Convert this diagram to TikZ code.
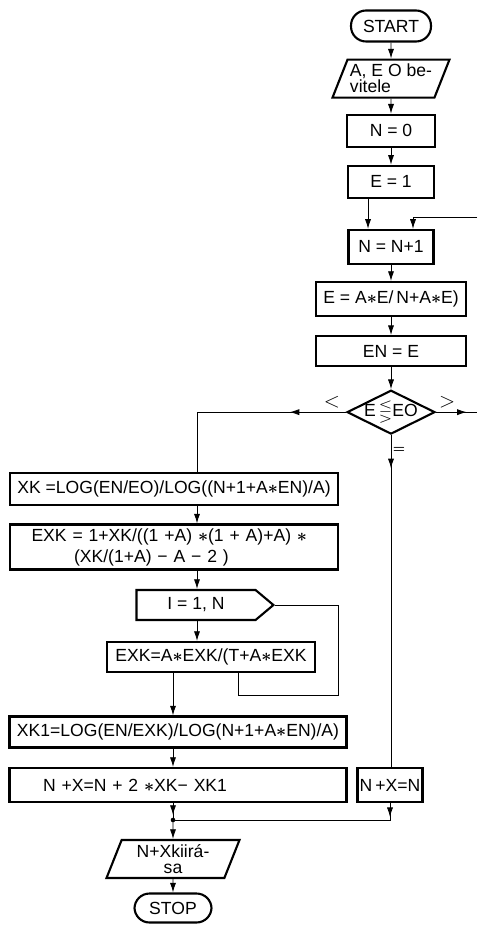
\documentclass[tikz,border=0pt]{standalone}
\usepackage{amsmath,amssymb}
\usepackage{fontspec}
\setmainfont{Liberation Sans}
\usetikzlibrary{
  shapes.geometric,
  shapes.symbols,
  arrows.meta,
  positioning,
  decorations.markings
}
\newcommand{\mul}{$\boldsymbol{\ast}$}

\begin{document}
\begin{tikzpicture}[
    x=0.02cm, y=-0.02cm,
    every node/.style={font=\fontsize{10}{12}\selectfont},
    process/.style={
      rectangle, draw, line width=1.2pt,
      minimum height=0.64cm, inner sep=2pt
    },
    startstop/.style={
      rectangle, draw, rounded corners=0.3cm, line width=1.2pt,
      minimum height=0.62cm, inner sep=2pt
    },
    io/.style={
      trapezium, draw, line width=1.2pt,
      trapezium left angle=65, trapezium right angle=115,
      trapezium stretches body,
      minimum height=0.76cm, inner sep=1pt
    },
    decision/.style={
      diamond, draw, line width=1.2pt, aspect=2,
      minimum width=1.76cm, minimum height=0.86cm, inner sep=-1pt
    },
    loopbox/.style={
      signal, signal to=east, signal pointer angle=80,
      draw, line width=1.2pt, minimum height=0.6cm
    },
    arrow/.style={-{Latex[length=5.5pt,width=3.5pt]}, line width=0.5pt},
    line/.style={line width=0.5pt},
    midarrow/.style={line width=0.5pt,
      decoration={markings,
        mark=at position #1 with {\arrow{Latex[length=5.5pt,width=3.5pt]}}},
      postaction=decorate},
  ]
  \useasboundingbox (0,0) rectangle (477,925);

  % --- Main column (right) ---
  \node[startstop, minimum width=1.6cm] (start) at (391,26) {START};
  \node[io, align=left, minimum width=2.34cm, below=0.32cm of start] (inp)
    {A, E O be-\\[-3pt]vitele};
  \node[process, minimum width=1.76cm, below=0.3cm of inp] (n0) {N = 0};
  \node[process, minimum width=1.72cm, below=0.34cm of n0] (e1) {E = 1};
  \node[process, minimum width=1.7cm, minimum height=0.68cm,
    below=0.6cm of e1] (nn1) {N = N+1};
  \node[process, minimum width=3cm, minimum height=0.68cm,
    below=0.32cm of nn1] (eae) {E = A\mul E/\,N+A\mul E)};
  \node[process, minimum width=3cm, minimum height=0.6cm,
    below=0.36cm of eae] (ene) {EN = E};
  \node[decision, below=0.44cm of ene] (cmp) {E\,$\lesseqgtr$EO};

  % --- Labels of the decision ---
  \node[font=\large] (lt) at ([xshift=-0.28cm, yshift=0.2cm]cmp.west) {$<$};
  \node[font=\large] (gt) at ([xshift=0.22cm, yshift=0.2cm]cmp.east) {$>$};
  \node[font=\scriptsize] (eq) at ([xshift=0.16cm, yshift=-0.3cm]cmp.south) {$\boldsymbol{=}$};

  % --- Left column ---
  \node[process, minimum width=6.56cm] (xk) at (174,489)
    {XK =LOG(EN/EO)/LOG((N+1+A\mul EN)/A)};
  \node[process, minimum width=6.56cm, minimum height=0.9cm,
    text width=6.2cm, align=left] (exk) at (174,547)
    {\hspace*{0.25cm}EXK = 1+XK/((1 +A) \mul(1 + A)+A) \mul\\\hspace*{1.1cm}(XK/(1+A) − A − 2 )};
  \node[loopbox, minimum width=2.74cm] (loop) at (196,605) {I = 1, N};
  \node[process, minimum width=4.16cm, minimum height=0.6cm] (exka) at (211,657)
    {EXK=A\mul EXK/(T+A\mul EXK};
  \node[process, minimum width=6.74cm, minimum height=0.62cm] (xk1) at (178,732)
    {XK1=LOG(EN/EXK)/LOG(N+1+A\mul EN)/A)};
  \node[process, minimum width=6.74cm, minimum height=0.68cm,
    text width=6.4cm, align=left] (nx) at (178,785)
    {\hspace*{0.5cm}N +X=N + 2 \mul XK− XK1};
  \node[process, minimum width=1.3cm, minimum height=0.68cm, inner sep=1pt] (nxn) at (390,785)
    {N\,+X=N};

  \coordinate (jn) at (173,820);
  \node[io, align=center, minimum width=2.66cm] (out) at (173,859)
    {N+Xkiirá-\\[-3pt]sa};
  \node[startstop, minimum width=1.54cm, minimum height=0.58cm] (stop) at (173,908) {STOP};

  % --- Arrows ---
  \draw[arrow] (start) -- (inp);
  \draw[arrow] (inp) -- (n0);
  \draw[arrow] (n0) -- (e1);
  \draw[arrow] ([xshift=-0.46cm]e1.south) -- ([xshift=-0.46cm]nn1.north);
  \coordinate (back) at (477,217);
  \draw[arrow] (back) -| ([xshift=0.44cm]nn1.north);
  \draw[arrow] (nn1) -- (eae);
  \draw[arrow] (eae) -- (ene);
  \draw[arrow] (ene) -- (cmp);

  \coordinate (lft) at ([xshift=0.46cm]xk.north);
  \draw[midarrow=0.27] (cmp.west) -- (cmp.west -| lft) -- (lft);
  \draw[midarrow=0.75] (cmp.east) -- (cmp.east -| back);
  \draw[midarrow=0.1] (cmp.south) -- (cmp.south |- nxn.north);

  \draw[arrow] (xk.south -| lft) -- (exk.north -| lft);
  \draw[arrow] (exk.south -| lft) -- (loop.north -| lft);
  \draw[arrow] (loop.south -| lft) -- (exka.north -| lft);
  \coordinate (lp) at (338,695);
  \draw[line] (loop.east) -| (lp) -| ([xshift=0.54cm]exka.south);

  \draw[arrow] (exka.south -| jn) -- (xk1.north -| jn);
  \draw[arrow] (xk1.south -| jn) -- (nx.north -| jn);
  \draw[midarrow=0.7] (nx.south -| jn) -- (jn);
  \draw[midarrow=0.06] (nxn.south) |- (jn);
  \fill (jn) circle (1.3pt);
  \draw[arrow] (jn) -- (out);
  \draw[arrow] (out) -- (stop);

\end{tikzpicture}
\end{document}
